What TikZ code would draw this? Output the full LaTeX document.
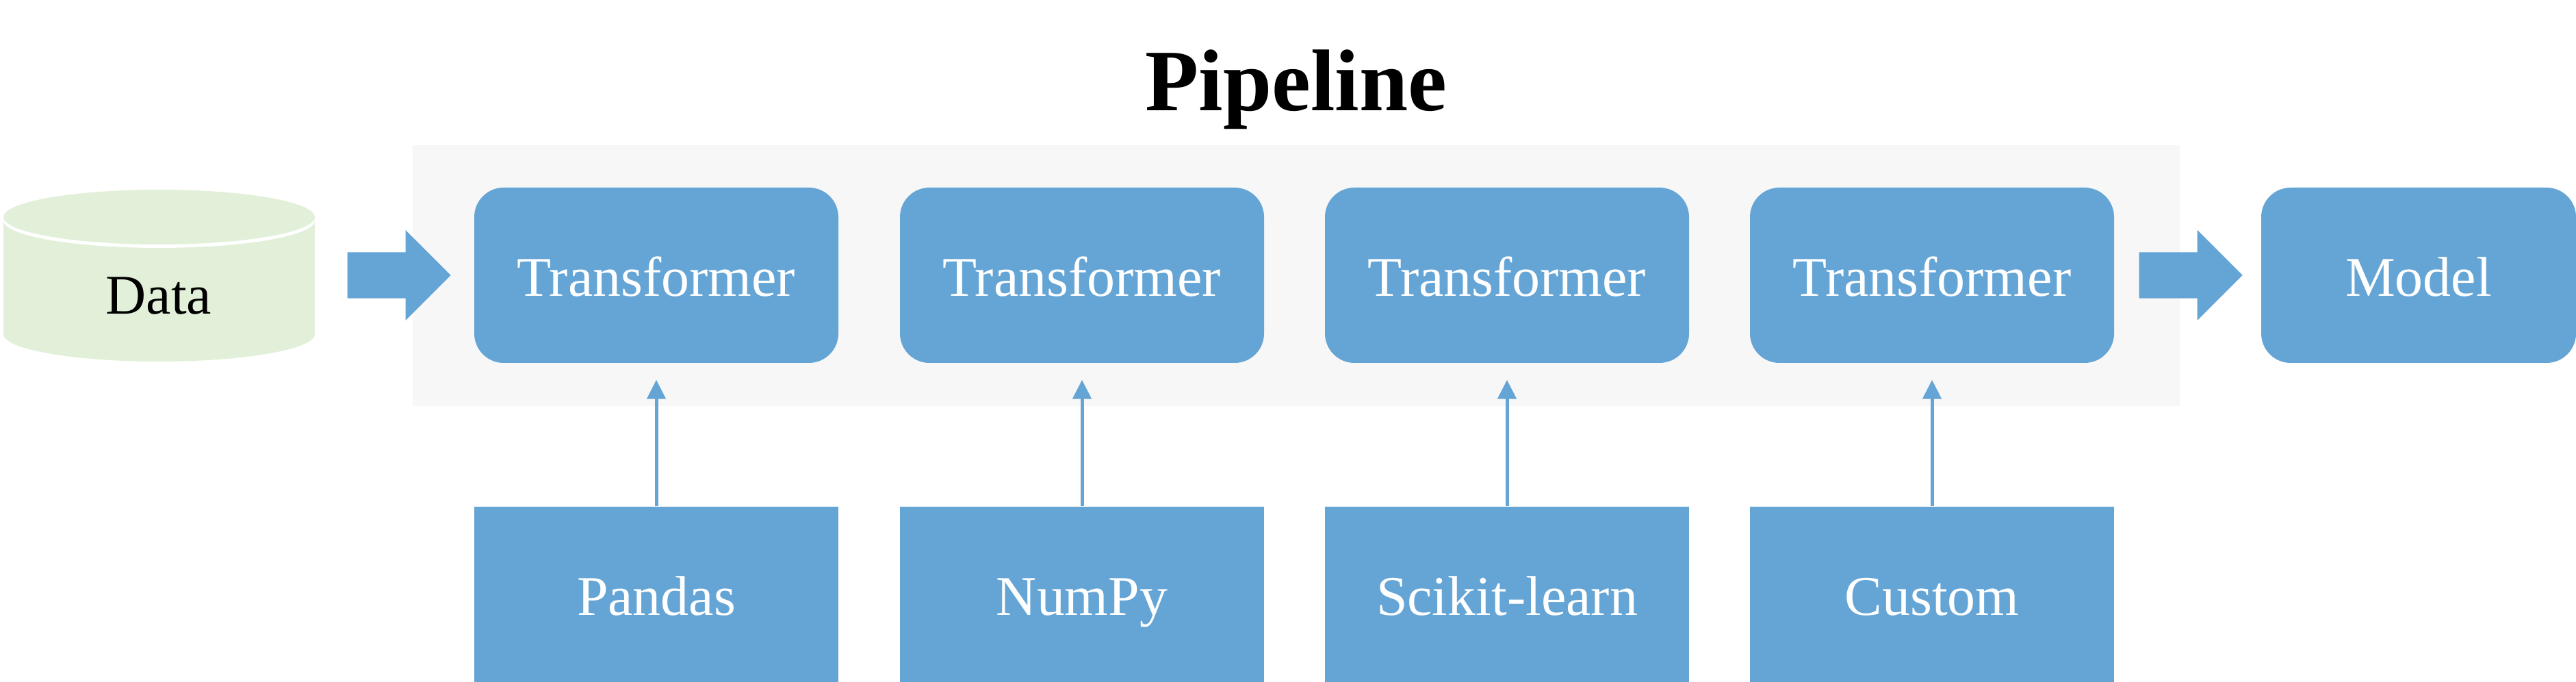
\documentclass[tikz,border=0pt]{standalone}
\usepackage{fontspec}
\setmainfont{Liberation Serif}
\usepackage{tikz}
\usetikzlibrary{arrows.meta,shapes.arrows}

\definecolor{boxblue}{RGB}{101,165,214}
\definecolor{datagreen}{RGB}{226,240,217}
\definecolor{panelgray}{RGB}{247,247,247}

\tikzset{
	rowtext/.style={text=white,font=\fontsize{23.3}{28}\selectfont,text height=.61cm,text depth=0pt,inner sep=0pt},
	tfbox/.style={rowtext,fill=boxblue,rounded corners=.43cm,minimum width=5.32cm,minimum height=2.56cm},
	srcbox/.style={rowtext,fill=boxblue,minimum width=5.32cm,minimum height=2.56cm},
	bigarrow/.style={single arrow,anchor=tail,fill=boxblue,inner sep=0pt,text height=.66cm,text depth=0pt,minimum height=1.51cm,single arrow head extend=.325cm,single arrow tip angle=90,single arrow head indent=0pt},
	srcline/.style={draw=boxblue,line width=.05cm,shorten >=.24cm,-{Triangle[length=.28cm,width=.27cm]}}
}

\begin{document}
\begin{tikzpicture}
	\useasboundingbox (0,0) rectangle (37.64,9.96);
	\def\rowy{5.94}
	
	\fill[panelgray] (6.03,4.03) rectangle (31.85,7.84);
	\node[font=\fontsize{36.4}{44}\bfseries\selectfont,inner sep=0pt,anchor=base] (title) at (18.94,8.34) {Pipeline};
	
	% cylinder
	\fill[datagreen] (0.05,6.79) -- (0.05,5.08) arc (180:360:2.275 and 0.40) -- (4.60,6.79) -- cycle;
	\fill[white] (2.325,6.74) ellipse (2.275 and 0.40);
	\fill[datagreen] (2.325,6.79) ellipse (2.275 and 0.40);
	\node[rowtext,text=black] (data) at (2.32,5.68) {Data};
	
	\foreach \i/\x/\src in {1/9.59/Pandas,2/15.81/NumPy,3/22.02/Scikit-learn,4/28.23/Custom}{
		\node[tfbox] (tf\i) at (\x,\rowy) {Transformer};
		\node[srcbox] (src\i) at (\x,1.28) {\src};
		\draw[srcline] (src\i) -- (tf\i);
	}
	\node[tfbox,minimum width=4.6cm] (model) at (35.34,\rowy) {Model};
	
	\node[bigarrow] (inarrow) at (5.07,\rowy) {};
	\node[bigarrow] (outarrow) at (31.25,\rowy) {};
\end{tikzpicture}
\end{document}
